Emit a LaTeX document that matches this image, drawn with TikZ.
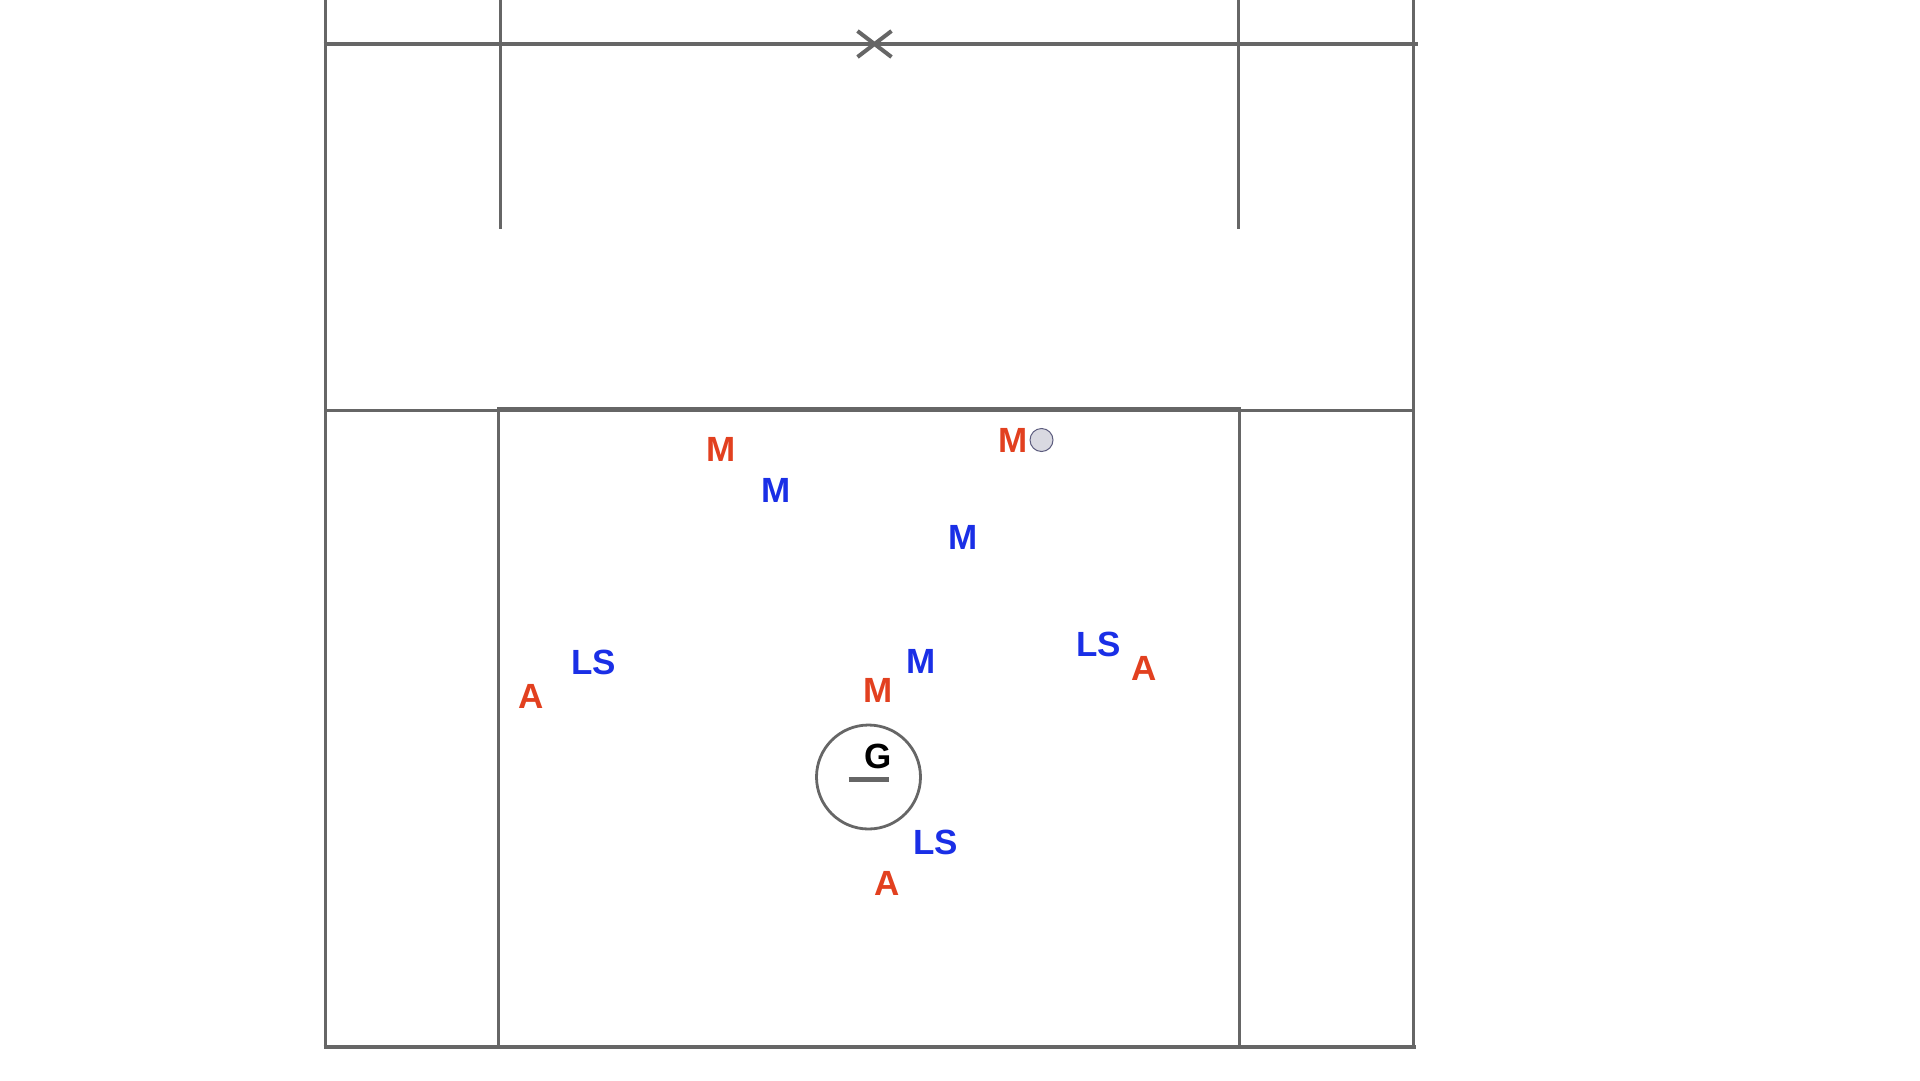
\documentclass[tikz,border=0pt]{standalone}
\usepackage{fontspec}
\setmainfont{Liberation Sans}
\usetikzlibrary{positioning}
\definecolor{linegray}{HTML}{666666}
\definecolor{offred}{HTML}{E2401F}
\definecolor{defblue}{HTML}{1A2FE6}
\definecolor{ballfill}{HTML}{D9D9E1}
\definecolor{ballline}{HTML}{5C5C7E}
\tikzset{font={\fontsize{35pt}{40}\selectfont\bfseries}}
\begin{document}
\begin{tikzpicture}[x=1pt, y=-1pt, line join=miter,
            fieldline/.style = {draw=linegray, line width=3pt},
            offense/.style = {text=offred, inner sep=0pt},
            defense/.style = {text=defblue, inner sep=0pt},
            keeper/.style = {text=black, inner sep=0pt}]
            \useasboundingbox (0,0) rectangle (1920,1080);
            \begin{scope}[xshift=1.5pt]
            % field
            \draw[fieldline] (324,0) -- (324,1047);
            \draw[fieldline] (1412,0) -- (1412,1047);
            \draw[fieldline, line width=4pt] (322,1047) -- (1414,1047);
            \draw[fieldline, line width=3.8pt] (322,44) -- (1416,44);
            \draw[fieldline] (499,0) -- (499,229);
            \draw[fieldline] (1237,0) -- (1237,229);
            \draw[fieldline] (324,410) -- (1412,410);
            \draw[fieldline, line width=3.4pt] (497,1046) -- (497,409) -- (1238,409) -- (1238,1046);
            % center X
            \draw[fieldline, line width=4pt] (856,31) -- (890,57) (856,57) -- (890,31);
            % crease and goal
            \node[circle, draw=linegray, line width=2.8pt, minimum size=104pt, inner sep=0pt] (crease) at (867,777) {};
            \draw[fieldline, line width=5pt] (847,779) -- (887,779);
            \node[keeper] (g) at (877,756) {G};
            % offense
            \node[offense] (m1) at (720,449) {M};
            \node[offense] (m2) at (1012,440) {M};
            \node[offense] (m3) at (877,690) {M};
            \node[offense] (a1) at (530,696) {A};
            \node[offense] (a2) at (1143,668) {A};
            \node[offense] (a3) at (886,883) {A};
            % ball
            \node[circle, draw=ballline, fill=ballfill, line width=1pt, minimum size=23pt, inner sep=0pt] (ball) at (1040,440) {};
            % defense
            \node[defense] (d1) at (775,490) {M};
            \node[defense] (d2) at (962,537) {M};
            \node[defense] (d3) at (920,661) {M};
            \node[defense] (ls1) at (592,662) {LS};
            \node[defense] (ls2) at (1097,644) {LS};
            \node[defense] (ls3) at (934,842) {LS};
            \end{scope}
        \end{tikzpicture}
\end{document}
